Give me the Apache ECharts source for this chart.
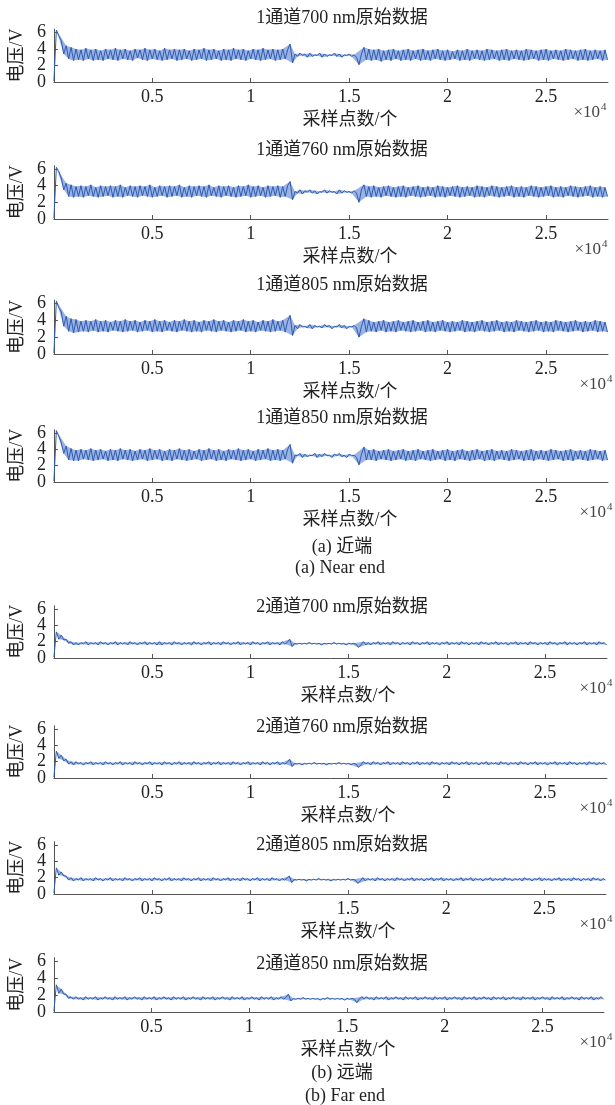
<!DOCTYPE html>
<html><head><meta charset="utf-8">
<script src="https://cdn.jsdelivr.net/npm/echarts@6/dist/echarts.min.js"></script>
<style>html,body{margin:0;padding:0;background:#fff}#c{width:615px;height:1105px}</style>
</head><body><div id="c"></div>
<script>
// ---------------- data ----------------
const STEP = 125;            // sample spacing of the typed values (sampling points)
const X_MAX = 28150;
const Y_MAX = 6.4;
const xTicks = [5000, 10000, 15000, 20000, 25000];
const yTicks = [0, 2, 4, 6];
const titles = ['1通道700 nm原始数据', '1通道760 nm原始数据', '1通道805 nm原始数据', '1通道850 nm原始数据',
                '2通道700 nm原始数据', '2通道760 nm原始数据', '2通道805 nm原始数据', '2通道850 nm原始数据'];
const xName = '采样点数/个';
const yName = '电压/V';
const captionsNear = ['(a) 近端', '(a) Near end'];
const captionsFar = ['(b) 远端', '(b) Far end'];

const near700 = [0.1,6.3,5.6,5.0,3.4,4.4,2.8,4.2,2.6,
4.0,2.7,3.9,2.6,4.1,2.8,3.9,2.6,4.0,2.7,
3.8,2.6,4.0,2.8,3.9,2.7,4.1,2.6,3.9,2.8,
4.0,2.7,3.8,2.6,4.0,2.9,3.9,2.7,4.1,2.6,
3.9,2.8,4.0,2.7,3.8,2.6,4.1,2.7,3.9,2.8,
4.0,2.6,3.9,2.7,4.0,2.8,3.8,2.6,4.0,2.7,
3.9,2.8,4.1,2.6,3.9,2.7,4.0,2.8,3.8,2.6,
4.0,2.7,3.9,2.6,4.1,2.8,3.9,2.7,4.0,2.6,
3.8,2.8,4.0,2.7,3.9,2.6,4.1,2.7,3.9,2.8,
4.0,2.6,3.9,2.7,4.0,2.8,3.9,
4.6,2.3,
3.4,3.1,3.5,3.2,3.4,3.0,3.5,3.1,3.3,3.2,3.5,3.0,3.4,3.1,3.3,3.2,3.5,3.1,3.4,3.0,3.3,3.2,3.4,3.1,3.3,
3.0,2.1,3.4,4.2,2.7,
4.0,2.6,3.9,2.7,4.0,2.5,3.8,2.7,3.9,2.6,
4.0,2.8,3.8,2.6,3.9,2.7,4.0,2.6,3.8,2.8,
3.9,2.6,4.0,2.7,3.8,2.6,3.9,2.8,4.0,2.7,
3.8,2.6,3.9,2.7,3.7,2.8,3.9,2.6,3.8,2.7,
4.0,2.6,3.8,2.8,3.9,2.7,3.8,2.6,4.0,2.7,
3.9,2.8,3.8,2.6,3.9,2.7,4.0,2.6,3.8,2.8,
3.9,2.7,3.8,2.6,4.0,2.7,3.9,2.8,3.8,2.6,
3.9,2.7,4.0,2.6,3.8,2.8,3.9,2.7,3.8,2.6,
4.0,2.7,3.9,2.8,3.8,2.6,3.9,2.7,4.0,2.6,
3.8,2.7,3.9,2.8,3.8,2.6,3.9,2.7];

const near760 = [0.1,6.2,5.7,4.9,3.5,4.3,2.7,4.1,2.6,
3.9,2.7,4.0,2.6,3.9,2.8,4.1,2.7,3.8,2.6,
4.0,2.7,3.9,2.8,4.0,2.6,3.9,2.7,4.1,2.6,
3.8,2.8,4.0,2.7,3.9,2.6,4.0,2.8,3.9,2.7,
4.1,2.6,3.8,2.7,4.0,2.8,3.9,2.6,4.0,2.7,
3.9,2.8,4.1,2.6,3.8,2.7,4.0,2.6,3.9,2.8,
4.0,2.7,3.9,2.6,4.1,2.8,3.8,2.7,4.0,2.6,
3.9,2.8,4.0,2.7,3.8,2.6,4.0,2.7,3.9,2.8,
4.1,2.6,3.9,2.7,4.0,2.8,3.8,2.6,4.0,2.7,
3.9,2.8,4.0,2.6,3.9,2.7,4.0,
4.5,2.3,
3.3,3.1,3.5,3.0,3.4,3.2,3.5,3.1,3.4,3.0,3.3,3.2,3.5,3.1,3.4,3.2,3.3,3.0,3.5,3.1,3.4,3.2,3.3,3.1,3.4,
3.1,2.0,3.5,4.1,2.7,
3.9,2.6,4.0,2.7,3.8,2.6,3.9,2.8,4.0,2.7,
3.8,2.6,3.9,2.7,4.0,2.6,3.8,2.8,3.9,2.7,
4.0,2.6,3.8,2.7,3.9,2.8,3.8,2.6,4.0,2.7,
3.9,2.6,3.8,2.8,3.9,2.7,4.0,2.6,3.8,2.7,
3.9,2.8,3.8,2.6,4.0,2.7,3.9,2.6,3.8,2.8,
4.0,2.7,3.9,2.6,3.8,2.7,3.9,2.8,4.0,2.6,
3.8,2.7,3.9,2.6,3.8,2.8,4.0,2.7,3.9,2.6,
3.8,2.7,3.9,2.8,4.0,2.6,3.8,2.7,3.9,2.6,
3.8,2.8,4.0,2.7,3.9,2.6,3.8,2.7,3.9,2.8,
4.0,2.6,3.8,2.7,3.9,2.6,3.8,2.7];

const near805 = [0.1,6.3,5.5,5.0,3.3,4.5,2.7,4.2,2.5,
4.1,2.6,3.9,2.7,4.0,2.6,3.9,2.8,4.1,2.6,
3.9,2.7,4.0,2.6,3.8,2.8,4.0,2.7,3.9,2.6,
4.1,2.7,3.9,2.8,4.0,2.6,3.8,2.7,4.0,2.8,
3.9,2.6,4.1,2.7,3.9,2.6,4.0,2.8,3.8,2.7,
4.0,2.6,3.9,2.8,4.1,2.7,3.9,2.6,4.0,2.7,
3.8,2.6,4.0,2.8,3.9,2.7,4.1,2.6,3.9,2.8,
4.0,2.7,3.8,2.6,4.0,2.7,3.9,2.8,4.1,2.6,
3.9,2.7,4.0,2.6,3.8,2.8,4.0,2.7,3.9,2.6,
4.1,2.7,3.9,2.8,4.0,2.6,3.9,
4.6,2.2,
3.4,3.0,3.5,3.2,3.3,3.1,3.5,3.0,3.4,3.2,3.3,3.1,3.5,3.2,3.4,3.0,3.3,3.2,3.5,3.1,3.4,3.0,3.3,3.2,3.4,
3.1,2.0,3.3,4.2,2.6,
4.0,2.7,3.8,2.6,3.9,2.8,4.0,2.6,3.8,2.7,
3.9,2.6,4.0,2.8,3.8,2.7,3.9,2.6,4.0,2.7,
3.8,2.8,3.9,2.6,4.0,2.7,3.8,2.6,3.9,2.8,
4.0,2.7,3.8,2.6,3.9,2.7,3.8,2.8,4.0,2.6,
3.9,2.7,3.8,2.6,3.9,2.8,4.0,2.7,3.8,2.6,
3.9,2.7,4.0,2.8,3.8,2.6,3.9,2.7,3.8,2.6,
4.0,2.8,3.9,2.7,3.8,2.6,3.9,2.7,4.0,2.8,
3.8,2.6,3.9,2.7,3.8,2.6,4.0,2.8,3.9,2.7,
3.8,2.6,3.9,2.7,4.0,2.8,3.8,2.6,3.9,2.7,
3.8,2.8,4.0,2.6,3.9,2.7,3.8,2.6];

const near850 = [0.1,6.3,5.6,4.8,3.5,4.4,2.7,4.1,2.6,
3.9,2.6,4.0,2.8,3.9,2.7,4.1,2.6,3.9,2.7,
4.0,2.8,3.8,2.6,4.0,2.7,3.9,2.6,4.1,2.8,
3.9,2.7,4.0,2.6,3.8,2.7,4.0,2.8,3.9,2.6,
4.1,2.7,3.9,2.8,4.0,2.6,3.8,2.7,4.0,2.6,
3.9,2.8,4.1,2.7,3.9,2.6,4.0,2.7,3.8,2.8,
4.0,2.6,3.9,2.7,4.1,2.8,3.9,2.6,4.0,2.7,
3.8,2.6,4.0,2.8,3.9,2.7,4.1,2.6,3.9,2.7,
4.0,2.8,3.8,2.6,4.0,2.7,3.9,2.8,4.1,2.6,
3.9,2.7,4.0,2.6,3.9,2.8,4.0,
4.6,2.3,
3.3,3.2,3.5,3.0,3.4,3.1,3.3,3.2,3.5,3.0,3.4,3.1,3.5,3.2,3.3,3.0,3.4,3.2,3.5,3.1,3.3,3.0,3.4,3.2,3.3,
3.0,2.1,3.4,4.3,2.7,
3.9,2.7,4.0,2.6,3.8,2.8,3.9,2.7,4.0,2.6,
3.8,2.7,3.9,2.8,4.0,2.6,3.8,2.7,3.9,2.6,
4.0,2.8,3.8,2.7,3.9,2.6,4.0,2.7,3.8,2.8,
3.9,2.6,4.0,2.7,3.8,2.6,3.9,2.8,4.0,2.7,
3.8,2.6,3.9,2.7,4.0,2.8,3.8,2.6,3.9,2.7,
4.0,2.6,3.8,2.8,3.9,2.7,3.8,2.6,4.0,2.7,
3.9,2.8,3.8,2.6,3.9,2.7,4.0,2.6,3.8,2.8,
3.9,2.7,3.8,2.6,4.0,2.7,3.9,2.8,3.8,2.6,
3.9,2.7,4.0,2.6,3.8,2.8,3.9,2.7,3.8,2.6,
4.0,2.7,3.9,2.8,3.8,2.6,3.9,2.7];

const far700 = [0.1,3.2,2.3,2.8,2.2,2.3,1.8,2.0,1.6,
1.9,1.6,1.9,1.7,2.0,1.6,1.9,1.7,1.9,1.6,
2.0,1.7,1.9,1.6,1.9,1.7,2.0,1.6,1.9,1.7,
1.9,1.6,2.0,1.7,1.9,1.6,1.9,1.7,2.0,1.6,
1.9,1.7,1.9,1.6,2.0,1.6,1.9,1.7,1.9,1.6,
2.0,1.7,1.9,1.6,1.9,1.7,1.9,1.6,2.0,1.7,
1.9,1.6,1.9,1.7,2.0,1.6,1.9,1.7,1.9,1.6,
2.0,1.7,1.9,1.6,1.9,1.7,2.0,1.6,1.9,1.7,
1.9,1.6,2.0,1.7,1.9,1.6,1.9,1.7,2.0,1.6,
1.9,1.7,1.9,1.6,2.0,1.7,1.9,
2.3,1.4,
1.8,1.7,1.8,1.7,1.8,1.7,1.9,1.7,1.8,1.7,1.8,1.6,1.8,1.7,1.8,1.7,1.9,1.7,1.8,1.7,1.8,1.6,1.8,1.7,1.8,
1.7,1.3,1.6,2.0,1.6,
1.9,1.6,1.9,1.7,2.0,1.6,1.9,1.7,1.9,1.6,
2.0,1.7,1.9,1.6,1.9,1.7,1.9,1.6,2.0,1.7,
1.9,1.6,1.9,1.7,2.0,1.6,1.9,1.7,1.9,1.6,
1.9,1.7,2.0,1.6,1.9,1.7,1.9,1.6,2.0,1.7,
1.9,1.6,1.9,1.7,1.9,1.6,2.0,1.7,1.9,1.6,
1.9,1.7,2.0,1.6,1.9,1.7,1.9,1.6,1.9,1.7,
2.0,1.6,1.9,1.7,1.9,1.6,2.0,1.7,1.9,1.6,
1.9,1.7,1.9,1.6,2.0,1.7,1.9,1.6,1.9,1.7,
2.0,1.6,1.9,1.7,1.9,1.6,1.9,1.7,2.0,1.6,
1.9,1.7,1.9,1.6,2.0,1.7,1.9,1.6];

const far760 = [0.1,3.3,2.4,2.8,2.1,2.3,1.7,2.0,1.6,
2.0,1.7,1.9,1.6,1.9,1.7,2.0,1.6,1.9,1.7,
1.9,1.6,2.0,1.7,1.9,1.6,1.9,1.7,2.0,1.6,
1.9,1.7,1.9,1.6,2.0,1.7,1.9,1.6,1.9,1.7,
2.0,1.6,1.9,1.7,1.9,1.6,2.0,1.7,1.9,1.6,
1.9,1.7,2.0,1.6,1.9,1.7,1.9,1.6,2.0,1.7,
1.9,1.6,1.9,1.7,2.0,1.6,1.9,1.7,2.0,1.6,
1.9,1.7,1.9,1.6,2.0,1.7,1.9,1.6,1.9,1.7,
2.0,1.6,1.9,1.7,1.9,1.6,2.0,1.7,1.9,1.6,
1.9,1.7,2.0,1.6,1.9,1.7,1.9,
2.3,1.4,
1.8,1.7,1.8,1.6,1.8,1.7,1.8,1.7,1.9,1.7,1.8,1.7,1.8,1.6,1.8,1.7,1.8,1.7,1.9,1.7,1.8,1.7,1.8,1.6,1.8,
1.7,1.3,1.6,2.0,1.7,
1.9,1.6,2.0,1.7,1.9,1.6,1.9,1.7,2.0,1.6,
1.9,1.7,1.9,1.6,2.0,1.7,1.9,1.6,1.9,1.7,
2.0,1.6,1.9,1.7,1.9,1.6,2.0,1.7,1.9,1.6,
1.9,1.7,1.9,1.6,2.0,1.7,1.9,1.6,1.9,1.7,
2.0,1.6,1.9,1.7,1.9,1.6,1.9,1.7,2.0,1.6,
1.9,1.7,1.9,1.6,2.0,1.7,1.9,1.6,1.9,1.7,
1.9,1.6,2.0,1.7,1.9,1.6,1.9,1.7,2.0,1.6,
1.9,1.7,1.9,1.6,1.9,1.7,2.0,1.6,1.9,1.7,
1.9,1.6,2.0,1.7,1.9,1.6,1.9,1.7,1.9,1.6,
2.0,1.7,1.9,1.6,1.9,1.7,1.9,1.6];

const far805 = [0.1,3.2,2.3,2.7,2.2,2.2,1.7,2.0,1.6,
1.9,1.7,2.0,1.6,1.9,1.7,1.9,1.6,2.0,1.7,
1.9,1.6,1.9,1.7,2.0,1.6,1.9,1.7,1.9,1.6,
2.0,1.7,1.9,1.6,1.9,1.7,2.0,1.6,1.9,1.7,
1.9,1.6,2.0,1.7,1.9,1.6,1.9,1.7,2.0,1.6,
1.9,1.7,1.9,1.6,2.0,1.7,1.9,1.6,1.9,1.7,
2.0,1.6,1.9,1.7,1.9,1.6,2.0,1.7,1.9,1.6,
1.9,1.7,2.0,1.6,1.9,1.7,1.9,1.6,2.0,1.7,
1.9,1.6,1.9,1.7,2.0,1.6,1.9,1.7,1.9,1.6,
2.0,1.7,1.9,1.6,1.9,1.7,1.9,
2.2,1.4,
1.8,1.7,1.8,1.7,1.8,1.6,1.8,1.7,1.8,1.7,1.9,1.7,1.8,1.7,1.8,1.6,1.8,1.7,1.8,1.7,1.8,1.7,1.9,1.7,1.8,
1.7,1.3,1.6,2.0,1.6,
1.9,1.7,1.9,1.6,2.0,1.7,1.9,1.6,1.9,1.7,
1.9,1.6,2.0,1.7,1.9,1.6,1.9,1.7,2.0,1.6,
1.9,1.7,1.9,1.6,1.9,1.7,2.0,1.6,1.9,1.7,
2.0,1.6,1.9,1.7,1.9,1.6,1.9,1.7,2.0,1.6,
1.9,1.7,2.0,1.6,1.9,1.7,1.9,1.6,1.9,1.7,
2.0,1.6,1.9,1.7,1.9,1.6,2.0,1.7,1.9,1.6,
1.9,1.7,1.9,1.6,2.0,1.7,1.9,1.6,1.9,1.7,
2.0,1.6,1.9,1.7,1.9,1.6,1.9,1.7,2.0,1.6,
1.9,1.7,1.9,1.6,2.0,1.7,1.9,1.6,1.9,1.7,
1.9,1.6,2.0,1.7,1.9,1.6,1.9,1.7];

const far850 = [0.1,3.2,2.2,2.7,2.1,2.1,1.6,1.8,1.5,
1.8,1.5,1.7,1.4,1.8,1.5,1.7,1.5,1.8,1.4,
1.7,1.5,1.8,1.5,1.7,1.4,1.8,1.5,1.7,1.5,
1.8,1.4,1.7,1.5,1.8,1.5,1.7,1.4,1.8,1.5,
1.7,1.5,1.8,1.4,1.7,1.5,1.8,1.5,1.7,1.4,
1.8,1.5,1.7,1.5,1.8,1.4,1.7,1.5,1.8,1.5,
1.7,1.4,1.8,1.5,1.7,1.5,1.8,1.4,1.7,1.5,
1.8,1.5,1.7,1.4,1.8,1.5,1.7,1.5,1.8,1.4,
1.7,1.5,1.8,1.5,1.7,1.4,1.8,1.5,1.7,1.5,
1.8,1.4,1.7,1.5,1.8,1.5,1.7,
2.1,1.3,
1.6,1.5,1.6,1.5,1.7,1.5,1.6,1.5,1.6,1.5,1.6,1.4,1.6,1.5,1.7,1.5,1.6,1.5,1.6,1.5,1.6,1.4,1.6,1.5,1.6,
1.5,1.1,1.5,1.8,1.5,
1.8,1.5,1.7,1.4,1.8,1.5,1.7,1.5,1.8,1.4,
1.7,1.5,1.8,1.5,1.7,1.4,1.8,1.5,1.7,1.5,
1.8,1.4,1.7,1.5,1.8,1.5,1.7,1.4,1.8,1.5,
1.7,1.5,1.8,1.4,1.7,1.5,1.8,1.5,1.7,1.4,
1.8,1.5,1.7,1.5,1.8,1.4,1.7,1.5,1.8,1.5,
1.7,1.4,1.8,1.5,1.7,1.5,1.8,1.4,1.7,1.5,
1.8,1.5,1.7,1.4,1.8,1.5,1.7,1.5,1.8,1.4,
1.7,1.5,1.8,1.5,1.7,1.4,1.8,1.5,1.7,1.5,
1.8,1.4,1.7,1.5,1.8,1.5,1.7,1.4,1.8,1.5,
1.7,1.5,1.8,1.4,1.7,1.5,1.8,1.5];

const seriesList = [near700, near760, near805, near850, far700, far760, far805, far850];

// ---------------- layout ----------------
const FONT = "'Liberation Serif','Noto Sans CJK SC',serif";
const LINE_COLOR = '#2f5bae';
const BAND_COLOR = '#9ab3e4';
const AXIS_COLOR = '#555';
const TEXT_COLOR = '#222';
// y0: pixel of value 0, y6: pixel of value 6
const PANELS = [
  {y0: 82,   y6: 32.5, left: 53, right: 608, titleY: 18,  unitR: 607},
  {y0: 219,  y6: 169,  left: 53, right: 608, titleY: 150, unitR: 608},
  {y0: 354,  y6: 303.5,left: 53, right: 608, titleY: 285, unitR: 613},
  {y0: 482,  y6: 433,  left: 53, right: 608, titleY: 418, unitR: 613},
  {y0: 658,  y6: 609,  left: 53, right: 607, titleY: 607, unitR: 613},
  {y0: 778,  y6: 729,  left: 52, right: 607, titleY: 727, unitR: 613},
  {y0: 894,  y6: 845,  left: 52, right: 606, titleY: 845, unitR: 613},
  {y0: 1012, y6: 961,  left: 50, right: 604, titleY: 964, unitR: 613}
];

// y tick labels split over two overlaid axes so that neighbouring labels never collide
const yLabelsA = yTicks.filter((_, k) => k % 2 === 0);   // 0, 4
const yLabelsB = yTicks.filter((_, k) => k % 2 === 1);   // 2, 6

// envelope (local maxima / minima) of a typed series after its first sample, used to shade the oscillation band
function envelope(arr) {
  const up = [], lo = [];
  const s = 1, e = arr.length - 1;
  for (let k = s; k <= e; k++) {
    const v = arr[k];
    if (k === s || k === e) { up.push([k * STEP, v]); lo.push([k * STEP, v]); continue; }
    const a = arr[k - 1], b = arr[k + 1];
    if (v >= a && v >= b) up.push([k * STEP, v]);
    if (v <= a && v <= b) lo.push([k * STEP, v]);
  }
  return {up, lo};
}

const grids = [], xAxes = [], yAxes = [], series = [], graphics = [];
const yLabelStyle = {margin: 8, fontFamily: FONT, fontSize: 18, color: TEXT_COLOR,
                     hideOverlap: false, showMinLabel: true, showMaxLabel: true};
PANELS.forEach((p, i) => {
  const top = p.y0 - (p.y0 - p.y6) * Y_MAX / 6;
  grids.push({left: p.left, top: top, width: p.right - p.left, height: p.y0 - top, containLabel: false});
  xAxes.push({
    type: 'value', gridIndex: i, min: 0, max: X_MAX,
    axisLine: {show: true, lineStyle: {color: AXIS_COLOR, width: 1}},
    axisTick: {show: true, inside: true, length: 4, customValues: xTicks, lineStyle: {color: AXIS_COLOR}},
    axisLabel: {customValues: xTicks, formatter: v => String(v / 10000), margin: 6, hideOverlap: false,
                fontFamily: FONT, fontSize: 18, color: TEXT_COLOR},
    splitLine: {show: false}
  });
  yAxes.push({
    type: 'value', gridIndex: i, min: 0, max: Y_MAX, position: 'left',
    axisLine: {show: true, lineStyle: {color: AXIS_COLOR, width: 1}},
    axisTick: {show: true, inside: true, length: 4, customValues: yTicks, lineStyle: {color: AXIS_COLOR}},
    axisLabel: Object.assign({customValues: yLabelsA}, yLabelStyle),
    splitLine: {show: false},
    name: yName, nameLocation: 'middle', nameRotate: 90, nameGap: 27,
    nameTextStyle: {fontFamily: FONT, fontSize: 18, color: TEXT_COLOR}
  });
  yAxes.push({
    type: 'value', gridIndex: i, min: 0, max: Y_MAX, position: 'left', offset: 0,
    axisLine: {show: false}, axisTick: {show: false},
    axisLabel: Object.assign({customValues: yLabelsB}, yLabelStyle),
    splitLine: {show: false}
  });
  const env = envelope(seriesList[i]);
  series.push({
    type: 'custom', xAxisIndex: i, yAxisIndex: 2 * i, silent: true, animation: false,
    data: [[0, 0]], z: 1,
    renderItem: (params, api) => {
      const pts = env.up.map(d => api.coord(d)).concat(env.lo.slice().reverse().map(d => api.coord(d)));
      return {type: 'polygon', shape: {points: pts}, style: {fill: BAND_COLOR, stroke: null}};
    }
  });
  series.push({
    type: 'line', xAxisIndex: i, yAxisIndex: 2 * i, showSymbol: false, symbol: 'none', z: 2,
    data: seriesList[i].map((v, k) => [k * STEP, v]),
    lineStyle: {color: LINE_COLOR, width: 1}, itemStyle: {color: LINE_COLOR},
    silent: true, animation: false, clip: true
  });
  graphics.push({type: 'text', x: 342, y: p.titleY,
    style: {text: titles[i], font: '18px ' + FONT, fill: TEXT_COLOR, textAlign: 'center', textVerticalAlign: 'middle'}});
  graphics.push({type: 'text', x: i < 4 ? 350 : 348, y: p.y0 + 38,
    style: {text: xName, font: '18px ' + FONT, fill: TEXT_COLOR, textAlign: 'center', textVerticalAlign: 'middle'}});
  graphics.push({type: 'text', x: p.unitR - 7, y: p.y0 + 31,
    style: {text: '×10', font: '17px ' + FONT, fill: '#444', textAlign: 'right', textVerticalAlign: 'middle'}});
  graphics.push({type: 'text', x: p.unitR - 6, y: p.y0 + 25,
    style: {text: '4', font: '11px ' + FONT, fill: '#444', textAlign: 'left', textVerticalAlign: 'middle'}});
});
graphics.push({type: 'text', x: 342, y: 547, style: {text: captionsNear[0], font: '18px ' + FONT, fill: TEXT_COLOR, textAlign: 'center', textVerticalAlign: 'middle'}});
graphics.push({type: 'text', x: 340, y: 568, style: {text: captionsNear[1], font: '18px ' + FONT, fill: TEXT_COLOR, textAlign: 'center', textVerticalAlign: 'middle'}});
graphics.push({type: 'text', x: 342, y: 1073, style: {text: captionsFar[0], font: '18px ' + FONT, fill: TEXT_COLOR, textAlign: 'center', textVerticalAlign: 'middle'}});
graphics.push({type: 'text', x: 345, y: 1096, style: {text: captionsFar[1], font: '18px ' + FONT, fill: TEXT_COLOR, textAlign: 'center', textVerticalAlign: 'middle'}});

const chart = echarts.init(document.getElementById('c'), null, {renderer: 'canvas'});
chart.setOption({
  animation: false,
  backgroundColor: '#fff',
  grid: grids, xAxis: xAxes, yAxis: yAxes, series: series,
  graphic: graphics
});
</script></body></html>
